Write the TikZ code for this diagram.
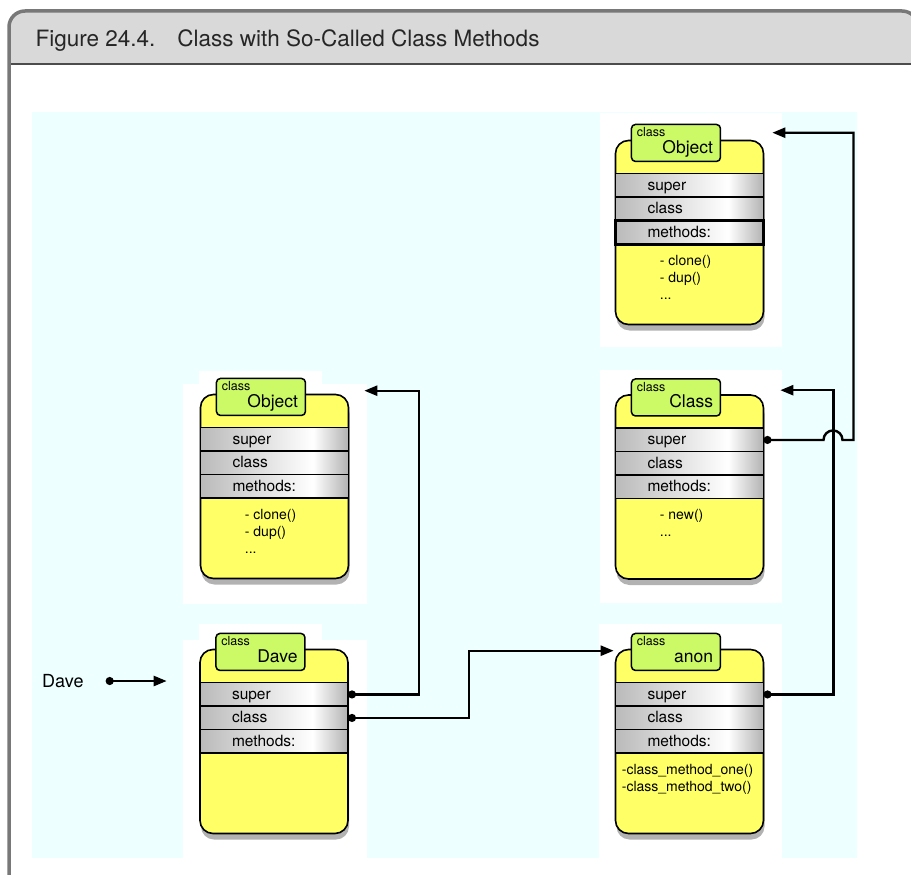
\documentclass[tikz,border=0pt]{standalone}
\usepackage{fontspec}
\setmainfont{TeX Gyre Heros}
\usetikzlibrary{arrows.meta, positioning, shadows}
\definecolor{bodyyellow}{RGB}{255,255,102}
\definecolor{tabgreen}{RGB}{204,250,102}
\definecolor{bgcyan}{RGB}{238,255,255}
\definecolor{headgray}{RGB}{217,217,217}
\definecolor{framegray}{RGB}{120,120,120}
\pgfdeclarehorizontalshading{rowshade}{100bp}{color(0bp)=(black!27); color(25bp)=(black!27); color(63bp)=(white); color(75bp)=(black!30); color(100bp)=(black!30)}

\begin{document}
\begin{tikzpicture}[
        x=1pt, y=-1pt,
        every node/.style={font=\fontsize{15.5}{18}\selectfont},
        body/.style={rectangle, draw, line width=1.6pt, fill=bodyyellow, rounded corners=13pt, minimum width=148pt, minimum height=184pt, drop shadow={shadow xshift=1pt, shadow yshift=-6pt, opacity=.3, fill=black}},
        tab/.style={rectangle, draw, line width=1.5pt, fill=tabgreen, rounded corners=4pt, minimum width=89pt, minimum height=37pt, inner sep=0pt},
        kind/.style={font=\fontsize{12.5}{12.5}\selectfont, inner sep=0pt},
        tabname/.style={font=\fontsize{17.5}{17.5}\selectfont, inner sep=0pt},
        row/.style={rectangle, draw, line width=1.5pt, shade, shading=rowshade, minimum width=148pt, minimum height=23.5pt, text width=84pt, inner xsep=32pt, inner ysep=0pt, outer sep=0pt, align=left, text height=11pt, text depth=1pt},
        meths/.style={font=\fontsize{14}{17}\selectfont, align=left, inner sep=0pt},
        ptr/.style={{Circle[length=8pt]}-{Triangle[length=13pt, width=10pt]}, line width=2.4pt}
    ]
    \path[use as bounding box, clip] (0,0) rectangle (911,875);
    % frame and caption
    \begin{scope}
        \clip[rounded corners=16pt] (9,11) rectangle (918,890);
        \fill[white] (0,0) rectangle (920,890);
        \fill[headgray] (0,0) rectangle (920,64);
    \end{scope}
    \draw[black!70, line width=1.8pt] (9,64) -- (918,64);
    \draw[framegray, line width=3.5pt, rounded corners=16pt] (9,11) rectangle (918,890);
    \node[anchor=west, font=\fontsize{22.5}{26}\selectfont, text=black!85] (title) at (32,41) {Figure 24.4.\hspace{22pt}Class with So-Called Class Methods};
    % backdrop
    \fill[bgcyan] (32,112) rectangle (857,858);
    \fill[white] (600,113) rectangle (782,347);
    \fill[white] (600,370) rectangle (782,603);
    \fill[white] (183,384) rectangle (367,604);
    \fill[white] (199,371) rectangle (322,384);
    \fill[white] (183,640) rectangle (367,858);
    \fill[white] (199,624) rectangle (322,640);
    \fill[white] (599,624) rectangle (782,858);
    % class boxes
    \foreach \id/\cx/\cy/\title/\mx/\meths in {
        objR/689.5/232.5/Object/45/{- clone()\\- dup()\\...},
        cls/689.5/487/Class/45/{- new()\\...},
        objL/274.5/486.5/Object/45/{- clone()\\- dup()\\...},
        dave/274/741.5/Dave/45/{},
        anon/689.5/741.5/anon/7/{-class\_method\_one()\\-class\_method\_two()}} {
        \node[body] (\id) at (\cx,\cy) {};
        \node[tab, anchor=north west] (\id-tab) at ([shift={(16pt,16pt)}]\id.north west) {};
        \node[kind, anchor=base west] (\id-kind) at ([shift={(6pt,-13pt)}]\id-tab.north west) {class};
        \node[tabname, anchor=base east] (\id-name) at ([shift={(-8pt,9pt)}]\id-tab.south east) {\title};
        \node[row, below=34pt of \id.north] (\id-super) {super};
        \node[row, below=0pt of \id-super] (\id-class) {class};
        \node[row, below=0pt of \id-class] (\id-methods) {methods:};
        \node[meths, anchor=north west] (\id-list) at ([shift={(\mx pt,-115pt)}]\id.north west) {\meths};
    }
    \draw[line width=3pt] (objR-methods.north west) rectangle (objR-methods.south east);
    % the variable
    \node[font=\fontsize{18}{20}\selectfont, anchor=west, inner sep=0pt] (var) at (42,681) {Dave};
    % pointers
    \coordinate (objR-in) at ([shift={(8pt,7pt)}]objR.north east);
    \coordinate (cls-in) at ([shift={(16pt,4pt)}]cls.north east);
    \coordinate (objL-in) at ([shift={(15pt,3pt)}]objL.north east);
    \coordinate (anon-in) at ([shift={(-1pt,-2pt)}]anon.north west);
    \draw[ptr] ([xshift=22pt]var.east) -- ++(61pt,0);
    \draw[ptr] (dave-super.east) -- ++(71pt,0) |- (objL-in);
    \draw[ptr] (dave-class.east) -- ++(121pt,0) |- (anon-in);
    \draw[ptr] (anon-super.east) -- ++(70pt,0) |- (cls-in);
    \draw[ptr] (cls-super.east) -- ++(60pt,0) arc[start angle=180, end angle=0, radius=9.5pt] -- ++(11pt,0) |- (objR-in);
\end{tikzpicture}
\end{document}
